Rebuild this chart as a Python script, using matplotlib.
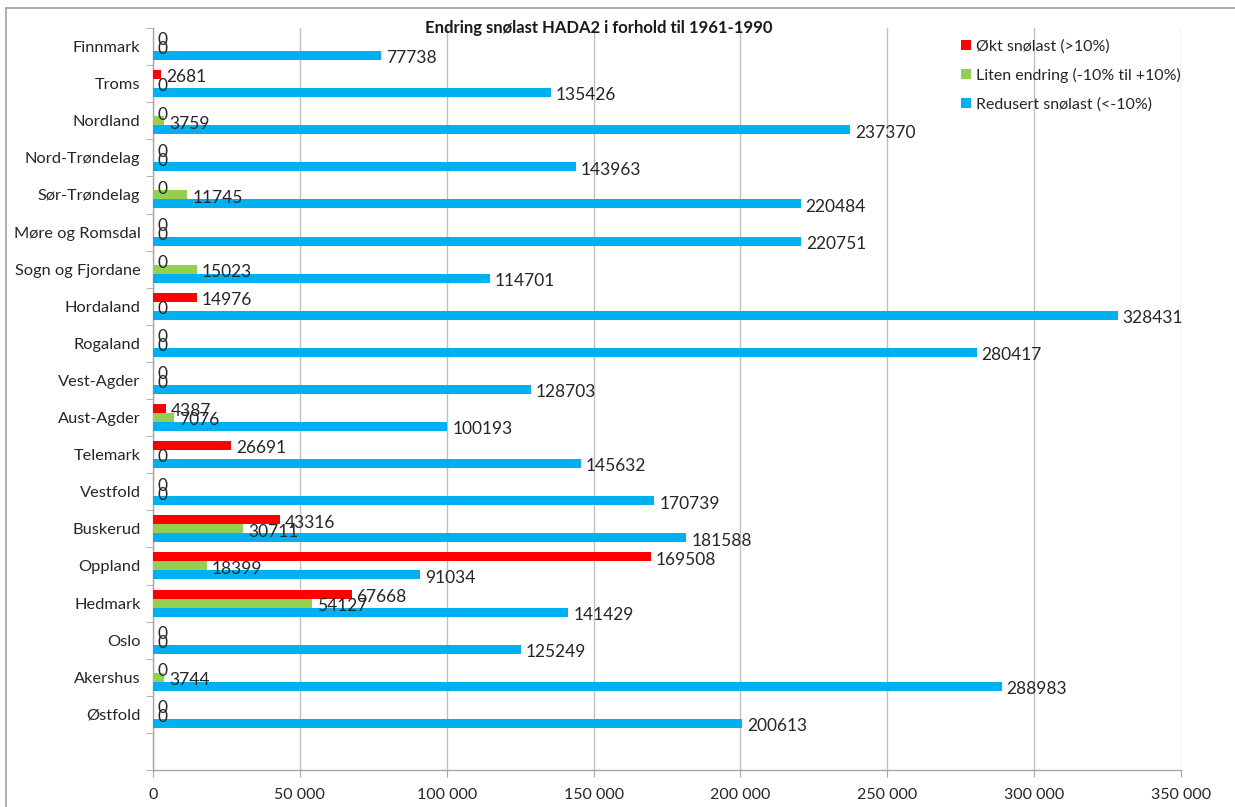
import matplotlib
matplotlib.use("Agg")
import matplotlib.pyplot as plt
from matplotlib.lines import Line2D
import numpy as np

plt.rcParams['font.family'] = ['Lato', 'DejaVu Sans']

categories = ["Østfold", "Akershus", "Oslo", "Hedmark", "Oppland", "Buskerud",
              "Vestfold", "Telemark", "Aust-Agder", "Vest-Agder", "Rogaland",
              "Hordaland", "Sogn og Fjordane", "Møre og Romsdal", "Sør-Trøndelag",
              "Nord-Trøndelag", "Nordland", "Troms", "Finnmark"]
okt = [0, 0, 0, 67668, 169508, 43316, 0, 26691, 4387, 0, 0, 14976, 0, 0, 0, 0, 0, 2681, 0]
liten = [0, 3744, 0, 54127, 18399, 30711, 0, 0, 7076, 0, 0, 0, 15023, 0, 11745, 0, 3759, 0, 0]
redusert = [200613, 288983, 125249, 141429, 91034, 181588, 170739, 145632, 100193,
            128703, 280417, 328431, 114701, 220751, 220484, 143963, 237370, 135426, 77738]
series_names = ["Økt snølast (>10%)", "Liten endring (-10% til +10%)", "Redusert snølast (<-10%)"]
colors = ["#FF0000", "#92D050", "#00B0F0"]
xticks = [0, 50000, 100000, 150000, 200000, 250000, 300000, 350000]
title = "Endring snølast HADA2 i forhold til 1961-1990"

W, H = 1235, 807
fig = plt.figure(figsize=(W / 100, H / 100), dpi=100)
ax = fig.add_axes([153 / W, 1 - 770 / H, (1181 - 153) / W, (770 - 28) / H])

y = np.arange(1, len(categories) + 1)
bh = 0.243
txtc = "#262626"
bars = []
for vals, off, col, name in zip([okt, liten, redusert], [bh, 0, -bh], colors, series_names):
    b = ax.barh(y + off, vals, height=bh, color=col, label=name, zorder=3)
    bars.append(b)
    for yy, v in zip(y + off, vals):
        ax.annotate(f"{v}", xy=(v, yy), xytext=(3.5, -2), textcoords="offset points",
                    ha="left", va="center", fontsize=12.5, color=txtc, zorder=4)

ax.set_xlim(0, 350000)
ax.set_ylim(-0.5, len(categories) + 0.5)
ax.set_xticks(xticks)
ax.set_xticklabels([f"{t:,}".replace(",", " ") for t in xticks], fontsize=11.5, color=txtc)
ax.set_yticks(y)
ax.set_yticklabels(categories, fontsize=11.8, color=txtc)
ax.set_yticks(np.arange(-0.5, len(categories) + 1), minor=True)
ax.tick_params(axis="y", which="major", length=0, pad=9)
ax.tick_params(axis="y", which="minor", length=5, color="#A6A6A6", direction="out")
ax.tick_params(axis="x", which="major", length=5, color="#A6A6A6", direction="out", pad=8)
ax.grid(axis="x", color="#BFBFBF", linewidth=1, zorder=0)
for s in ["top", "right"]:
    ax.spines[s].set_visible(False)
for s in ["left", "bottom"]:
    ax.spines[s].set_color("#A6A6A6")
    ax.spines[s].set_linewidth(1)

fig.text(599 / W, 1 - 28 / H, title, ha="center", va="center", fontsize=12,
         fontweight="bold", color="#1a1a1a")

leg = ax.legend(handles=bars, loc="upper left", bbox_to_anchor=(953 / W, 1 - 31 / H),
                bbox_transform=fig.transFigure, frameon=False, fontsize=11.5,
                handlelength=0.6, handleheight=0.6, handletextpad=0.35,
                labelspacing=0.9, borderpad=0)
for t in leg.get_texts():
    t.set_color(txtc)

fig.add_artist(Line2D([6 / W, 1], [1 - 8 / H, 1 - 8 / H], transform=fig.transFigure,
                      color="#A0A0A0", lw=1.2))
fig.add_artist(Line2D([6 / W, 6 / W], [0, 1 - 8 / H], transform=fig.transFigure,
                      color="#A0A0A0", lw=1.2))

fig.savefig("out.png", dpi=100)
